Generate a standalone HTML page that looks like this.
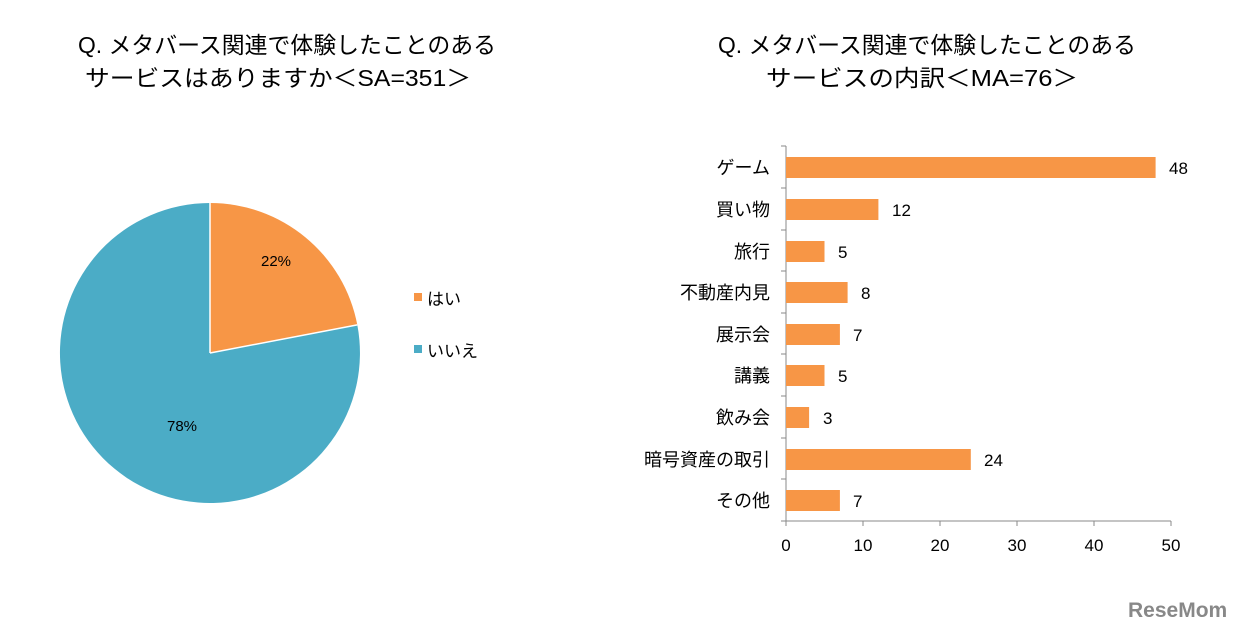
<!DOCTYPE html>
<html><head><meta charset="utf-8"><style>
body{margin:0;background:#fff;}
svg{display:block;font-family:"Liberation Sans","Noto Sans CJK JP",sans-serif;}
</style></head><body>
<svg width="1238" height="632" viewBox="0 0 1238 632">
<g font-size="23" fill="#000" text-anchor="middle">
<text x="287" y="53" textLength="418" lengthAdjust="spacingAndGlyphs">Q. メタバース関連で体験したことのある</text>
<text x="278" y="86" textLength="386" lengthAdjust="spacingAndGlyphs">サービスはありますか＜SA=351＞</text>
<text x="927" y="53" textLength="418" lengthAdjust="spacingAndGlyphs">Q. メタバース関連で体験したことのある</text>
<text x="922" y="86" textLength="312" lengthAdjust="spacingAndGlyphs">サービスの内訳＜MA=76＞</text>
</g>
<path d="M210,353 L210,203 A150,150 0 0,1 357.3,324.9 Z" fill="#F79646"/>
<path d="M210,353 L357.3,324.9 A150,150 0 1,1 210,203 Z" fill="#4BACC6"/>
<line x1="210" y1="353" x2="210" y2="203" stroke="#fff" stroke-width="1.5"/>
<line x1="210" y1="353" x2="357.3" y2="324.9" stroke="#fff" stroke-width="1.5"/>
<g font-size="15" text-anchor="middle">
<text x="276" y="266">22%</text>
<text x="182" y="431">78%</text>
</g>
<rect x="414" y="293" width="8" height="8" fill="#F79646"/>
<text x="427" y="305" font-size="17">はい</text>
<rect x="414" y="345" width="8" height="8" fill="#4BACC6"/>
<text x="427" y="357" font-size="17">いいえ</text>
<g stroke="#888" stroke-width="1">
<line x1="786" y1="146" x2="786" y2="521"/>
<line x1="781" y1="521" x2="1171" y2="521"/>
<line x1="863" y1="521" x2="863" y2="526"/>
<line x1="940" y1="521" x2="940" y2="526"/>
<line x1="1017" y1="521" x2="1017" y2="526"/>
<line x1="1094" y1="521" x2="1094" y2="526"/>
<line x1="1171" y1="521" x2="1171" y2="526"/>
<line x1="786" y1="521" x2="786" y2="526"/>
<line x1="781" y1="146" x2="786" y2="146"/><line x1="781" y1="188" x2="786" y2="188"/><line x1="781" y1="230" x2="786" y2="230"/><line x1="781" y1="271" x2="786" y2="271"/><line x1="781" y1="313" x2="786" y2="313"/><line x1="781" y1="354" x2="786" y2="354"/><line x1="781" y1="396" x2="786" y2="396"/><line x1="781" y1="438" x2="786" y2="438"/><line x1="781" y1="479" x2="786" y2="479"/>
</g>
<g fill="#F79646">
<rect x="786" y="157" width="369.6" height="21"/>
<rect x="786" y="199" width="92.4" height="21"/>
<rect x="786" y="241" width="38.5" height="21"/>
<rect x="786" y="282" width="61.6" height="21"/>
<rect x="786" y="324" width="53.9" height="21"/>
<rect x="786" y="365" width="38.5" height="21"/>
<rect x="786" y="407" width="23.1" height="21"/>
<rect x="786" y="449" width="184.8" height="21"/>
<rect x="786" y="490" width="53.9" height="21"/>
</g>
<g font-size="17">
<text x="1169" y="174">48</text>
<text x="892" y="216">12</text>
<text x="838" y="258">5</text>
<text x="861" y="299">8</text>
<text x="853" y="341">7</text>
<text x="838" y="382">5</text>
<text x="823" y="424">3</text>
<text x="984" y="466">24</text>
<text x="853" y="507">7</text>
</g>
<g font-size="18" text-anchor="end">
<text x="770" y="174">ゲーム</text>
<text x="770" y="216">買い物</text>
<text x="770" y="258">旅行</text>
<text x="770" y="299">不動産内見</text>
<text x="770" y="341">展示会</text>
<text x="770" y="382">講義</text>
<text x="770" y="424">飲み会</text>
<text x="770" y="466">暗号資産の取引</text>
<text x="770" y="507">その他</text>
</g>
<g font-size="17" text-anchor="middle">
<text x="786" y="551">0</text><text x="863" y="551">10</text><text x="940" y="551">20</text><text x="1017" y="551">30</text><text x="1094" y="551">40</text><text x="1171" y="551">50</text>
</g>
<text x="1128" y="617" font-size="21" font-weight="bold" fill="#888">ReseMom</text>
</svg>
</body></html>
